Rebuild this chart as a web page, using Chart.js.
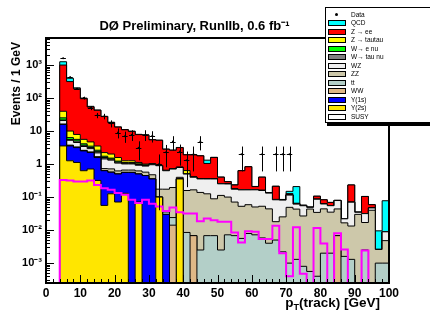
<!DOCTYPE html>
<html>
<head>
<meta charset="utf-8">
<script src="https://cdn.jsdelivr.net/npm/chart.js@4.4.1/dist/chart.umd.min.js"></script>
<style>
  html, body { margin: 0; padding: 0; background: #fff; }
  #wrap { position: relative; width: 430px; height: 311px; overflow: hidden; }
  #legend {
    position: absolute; left: 325px; top: 7px; width: 110px; height: 114px;
    background: #fff; border: 1px solid #000; box-shadow: 2px 3px 0 #000;
    font-family: "Liberation Sans", Arial, sans-serif; font-size: 6.5px; color: #000;
  }
  .row { position: absolute; left: 0; height: 9px; width: 100%; }
  .sw { position: absolute; left: 2px; top: 2px; width: 16px; height: 4px; border: 1px solid #000; }
  .dot { position: absolute; left: 9px; top: 3px; width: 3px; height: 3px; border-radius: 50%; background: #000; }
  .lb { position: absolute; left: 25px; top: 0; line-height: 9px; white-space: nowrap; }
</style>
</head>
<body>
<div id="wrap">
  <canvas id="chart" width="430" height="311"></canvas>
  <div id="legend"></div>
</div>
<script>
// bins: 2 GeV wide, left edges
const binStart = [0, 2, 4, 6, 8, 10, 12, 14, 16, 18, 20, 22, 24, 26, 28, 30, 32, 34, 36, 38,
                  40, 42, 44, 46, 48, 50, 52, 54, 56, 58, 60, 62, 64, 66, 68, 70, 72, 74, 76, 78,
                  80, 82, 84, 86, 88, 90, 92, 94, 96, 98];
const xEnd = 100;
const xTicks = [0, 10, 20, 30, 40, 50, 60, 70, 80, 90, 100];
const yTicks = [1e-3, 1e-2, 1e-1, 1, 10, 100, 1000];
const yTickLabels = ['10⁻³', '10⁻²', '10⁻¹', '1', '10', '10²', '10³'];
const yMin = 2.5e-4, yMax = 6600;

// stacked backgrounds, bottom to top (events / 1 GeV)
const ups2s = [0, 0, 3.55, 1.26, 1.12, 0.63, 0.71, 0.32, 0.056, 0.126,
  0.071, 0.13, 0, 0.071, 0, 0, 0.1, 0, 0, 0.355,
  0, 0, 0, 0, 0, 0, 0, 0, 0, 0,
  0, 0, 0, 0, 0, 0, 0, 0, 0, 0,
  0, 0, 0, 0, 0, 0, 0, 0, 0, 0];
const ups1s = [0, 0, 12.3, 2.29, 2.04, 1.88, 1.53, 1.26, 0.575, 0.44,
  0.43, 0.43, 0.56, 0.43, 0.45, 0.355, 0, 0.03, 0, 0,
  0, 0, 0, 0, 0, 0, 0, 0, 0, 0,
  0, 0, 0, 0, 0, 0, 0, 0, 0, 0,
  0, 0, 0, 0, 0, 0, 0, 0, 0, 0];
const ww = [0, 0, 0, 0, 0, 0, 0, 0, 0, 0,
  0, 0, 0, 0, 0, 0, 0, 0, 0.0141, 0,
  0, 0.0068, 0, 0, 0, 0, 0, 0, 0, 0,
  0, 0, 0, 0, 0, 0, 0, 0, 0, 0,
  0, 0, 0.0068, 0, 0, 0, 0, 0, 0, 0];
const ttbar = [0, 0, 0, 0, 0, 0, 0, 0, 0, 0,
  0, 0, 0, 0, 0, 0, 0, 0.0055, 0.0099, 0,
  0.0085, 0, 0.0025, 0.0068, 0.0068, 0.0025, 0.0072, 0.0068, 0.0056, 0.0079,
  0.0072, 0.0058, 0.004, 0.005, 0.0022, 0.001, 0.0013, 0.0008, 0.00056, 0.0004,
  0.002, 0.002, 0, 0.0016, 0.0013, 0, 0.0025, 0, 0.001, 0.001];
const zz = [0, 0, 0.5, 0.2, 0.15, 0.1, 0.1, 0.1, 0.1, 0.15,
  0.12, 0.1, 0.1, 0.12, 0.12, 0.12, 0.074, 0.138, 0.171, 0.043,
  0.15, 0.159, 0.136, 0.119, 0.082, 0.11, 0.093, 0.064, 0.047, 0.051,
  0.043, 0.047, 0.04, 0.013, 0.023, 0.048, 0.042, 0.026, 0.043, 0.034,
  0.042, 0.033, 0.037, 0.015, 0.012, 0.03, 0.0145, 0.04, 0.0016, 0.0038];
const wz = [0, 0, 4.5, 1.5, 1.2, 0.8, 0.6, 0.5, 0.7, 0.6,
  0.45, 0.35, 0.35, 0.3, 0.3, 0.48, 0.72, 0.456, 0.513, 0.39,
  0.34, 0.234, 0.217, 0.229, 0.266, 0.14, 0.15, 0.103, 0.113, 0.107,
  0.116, 0.106, 0.088, 0.065, 0.056, 0.066, 0.018, 0.028, 0.0053, 0.052,
  0.018, 0.02, 0.035, 0.0054, 0.057, 0.0047, 0.0146, 0.007, 0, 0.0041];
const wtaunu = [0, 0, 0.8, 0.3, 0.5, 0.3, 0.25, 0.2, 0.15, 0.1,
  0.08, 0.05, 0.05, 0.05, 0.04, 0.03, 0.01, 0.01, 0.01, 0.01,
  0.005, 0.005, 0.005, 0.005, 0.005, 0.002, 0.002, 0.002, 0.002, 0.002,
  0.001, 0.001, 0.001, 0.001, 0.0005, 0.0005, 0, 0, 0, 0,
  0, 0, 0, 0, 0, 0, 0, 0, 0, 0];
const wenu = [0, 0, 3.5, 0.8, 0.6, 0.4, 0.3, 0.25, 0.15, 0.1,
  0.08, 0.05, 0.05, 0.05, 0.04, 0.02, 0.005, 0.005, 0.005, 0.005,
  0.003, 0.003, 0.003, 0.003, 0.003, 0.001, 0.001, 0.001, 0.001, 0.001,
  0.001, 0.001, 0.001, 0.001, 0.001, 0.001, 0, 0, 0, 0,
  0, 0, 0, 0, 0, 0, 0, 0, 0, 0];
const ztautau = [0, 0, 14.65, 3.65, 2.3, 1.5, 1.2, 0.9, 0.5, 0.5,
  0.35, 0.15, 0.15, 0.1, 0.05, 0.03, 0.005, 0.005, 0.005, 0.005,
  0.13, 0.002, 0.002, 0.002, 0.002, 0, 0, 0, 0, 0,
  0, 0, 0, 0, 0, 0, 0, 0, 0, 0,
  0, 0, 0, 0, 0, 0, 0, 0, 0, 0];
const zee = [0, 0, 960, 306, 182.6, 89.9, 49, 39.1, 25.3, 16.2,
  11.6, 9.7, 8.5, 6.7, 6.6, 4.4, 4.34, 2.17, 1.9, 2.35,
  1.27, 1.49, 1.41, 0.68, 1.22, 0.145, 0.04, 0.056, 0.46, 0.66,
  0.04, 0.24, 0.001, 0.127, 0.002, 0.011, 0.004, 0.002, 0.001, 0.02,
  0.021, 0.014, 0.001, 0, 0.163, 0, 0.073, 0.012, 0, 0];
const qcd = [0, 0, 260, 82, 13.5, 4.5, 2.5, 0.9, 0.5, 0.3,
  0.2, 0.2, 0.2, 0.15, 0.1, 0.1, 0.05, 0.03, 0.03, 0.03,
  0.03, 0.02, 0.02, 0.27, 0.02, 0.005, 0.003, 0.003, 0.01, 0.01,
  0.002, 0.003, 0, 0.002, 0, 0.022, 0.143, 0, 0, 0,
  0, 0, 0, 0, 0, 0, 0, 0, 0.0069, 0.0687];

// signal overlay (not stacked)
const susy = [0, 0, 0.33, 0.316, 0.295, 0.295, 0.316, 0.234, 0.186, 0.166,
  0.132, 0.117, 0.083, 0.066, 0.083, 0.063, 0.052, 0.038, 0.048, 0.035,
  0.032, 0.032, 0.0186, 0.0224, 0.02, 0.0178, 0.0178, 0.0085, 0.0042, 0.0093,
  0.0089, 0.0054, 0.0054, 0.0135, 0.002, 0.0004, 0.0123, 0.00048, 0, 0.0115,
  0.0039, 0, 0.0081, 0.0026, 0, 0, 0.0024, 0, 0, 0];

// data points and errors
const dataVals = [null, null, 1600, 430, 190, 100, 50, 30, 28, 17,
  9, 7, 7.8, 3.1, 7.8, 7.2, 1.0, 2.3, 4.8, 2.4,
  1.3, 2.0, 4.8, null, null, null, null, null, 2.0, null,
  null, 2.0, null, 2.0, 2.0, 2.0, null, null, null, null,
  null, null, null, null, null, null, null, null, null, null];
const dataErr = [0, 0, 40, 21, 14, 10, 7, 5.5, 5.3, 4.1,
  3, 2.6, 2.8, 1.8, 2.8, 2.7, 0.96, 1.5, 2.2, 1.5,
  1.1, 1.4, 2.2, 0, 0, 0, 0, 0, 1.4, 0,
  0, 1.4, 0, 1.4, 1.4, 1.4, 0, 0, 0, 0,
  0, 0, 0, 0, 0, 0, 0, 0, 0, 0];

const layers = [
  { label: 'Y(2s)', values: ups2s, color: '#ffe600' },
  { label: 'Y(1s)', values: ups1s, color: '#0000ff' },
  { label: 'WW', values: ww, color: '#dfb887' },
  { label: 'tt', values: ttbar, color: '#b3cfc8' },
  { label: 'ZZ', values: zz, color: '#cdc8aa' },
  { label: 'WZ', values: wz, color: '#efefef' },
  { label: 'W→ tau nu', values: wtaunu, color: '#808080' },
  { label: 'W→ e nu', values: wenu, color: '#00ff00' },
  { label: 'Z → tautau', values: ztautau, color: '#ffff00' },
  { label: 'Z → ee', values: zee, color: '#ff0000' },
  { label: 'QCD', values: qcd, color: '#00ffff' }
];

const FONT = '"Liberation Sans", Arial, Helvetica, sans-serif';
Chart.defaults.font.family = FONT;
Chart.defaults.color = '#000';

// a log axis drops zeros, so empty bins get a value far below the axis
const EMPTY = 1e-9;
// histogram as step line: one point per bin edge
const toSteps = (vals, floor) => vals.map((v, i) => ({ x: binStart[i], y: v > 0 ? v : floor }))
  .concat([{ x: xEnd, y: vals[vals.length - 1] > 0 ? vals[vals.length - 1] : floor }]);

const datasets = layers.map((l, i) => ({
  label: l.label,
  data: toSteps(l.values, EMPTY),
  stepped: true,
  stack: 'mc',
  fill: i === 0 ? 'start' : '-1',
  backgroundColor: l.color,
  borderColor: '#000',
  borderWidth: 1,
  pointRadius: 0,
  order: 2
}));
datasets.push({
  label: 'SUSY',
  data: toSteps(susy, yMin),
  stepped: true,
  stack: 'susy',
  fill: false,
  borderColor: '#ff00ff',
  borderWidth: 2,
  pointRadius: 0,
  clip: { left: 0, top: 0, right: 0, bottom: 1 },
  order: 1
});
datasets.push({
  label: 'Data',
  data: dataVals.map((v, i) => ({ x: binStart[i] + 1, y: v })),
  stack: 'data',
  showLine: false,
  pointRadius: 1,
  pointBackgroundColor: '#000',
  pointBorderWidth: 0,
  order: 0
});

// ROOT style: inner ticks, frame, data error bars, axis titles
const rootStyle = {
  id: 'rootStyle',
  afterDatasetsDraw(chart) {
    const { ctx, chartArea: a, scales: { x, y } } = chart;
    ctx.save();

    // data error bars
    ctx.strokeStyle = '#000';
    ctx.lineWidth = 1;
    dataVals.forEach((v, i) => {
      if (v === null) return;
      const cx = Math.round(x.getPixelForValue(binStart[i] + 1)) + 0.5;
      const cy = Math.round(y.getPixelForValue(v)) + 0.5;
      const top = y.getPixelForValue(v + dataErr[i]);
      const bot = y.getPixelForValue(Math.max(v - dataErr[i], y.min));
      ctx.beginPath();
      ctx.moveTo(cx, top); ctx.lineTo(cx, bot);
      ctx.moveTo(x.getPixelForValue(binStart[i] + 0.2), cy);
      ctx.lineTo(x.getPixelForValue(binStart[i] + 1.8), cy);
      ctx.stroke();
    });

    // tick marks inside the frame
    ctx.beginPath();
    for (let v = 0; v <= 100; v += 2) {
      const px = Math.round(x.getPixelForValue(v)) + 0.5;
      const len = v % 10 === 0 ? 8 : 4;
      ctx.moveTo(px, a.bottom); ctx.lineTo(px, a.bottom - len);
    }
    for (let e = -4; e <= 3; e++) {
      for (let m = 1; m <= 9; m++) {
        const v = m * Math.pow(10, e);
        if (v < y.min || v > y.max) continue;
        const py = Math.round(y.getPixelForValue(v)) + 0.5;
        const len = m === 1 ? 8 : 4;
        ctx.moveTo(a.left, py); ctx.lineTo(a.left + len, py);
      }
    }
    ctx.stroke();

    // frame
    ctx.lineWidth = 2;
    ctx.strokeRect(a.left, a.top, a.right - a.left, a.bottom - a.top);
    ctx.restore();
  },
  afterDraw(chart) {
    const { ctx, chartArea: a } = chart;
    ctx.save();
    ctx.fillStyle = '#000';
    ctx.textBaseline = 'alphabetic';

    // x title with subscript
    const big = 'bold 13.5px ' + FONT, small = 'bold 9px ' + FONT;
    ctx.font = big;
    const rest = '(track) [GeV]';
    const wRest = ctx.measureText(rest).width;
    const wP = ctx.measureText('p').width;
    ctx.font = small;
    const wT = ctx.measureText('T').width;
    const xr = a.right - 9, base = 307;
    ctx.font = big;
    ctx.fillText('p', xr - wRest - wT - wP, base);
    ctx.fillText(rest, xr - wRest, base);
    ctx.font = small;
    ctx.fillText('T', xr - wRest - wT, base + 3);

    // y title, right adjusted to the top
    ctx.font = 'bold 12px ' + FONT;
    ctx.translate(20, a.top + 4);
    ctx.rotate(-Math.PI / 2);
    ctx.textAlign = 'right';
    ctx.fillText('Events / 1 GeV', 0, 0);
    ctx.restore();
  }
};

new Chart(document.getElementById('chart'), {
  type: 'line',
  data: { datasets },
  plugins: [rootStyle],
  options: {
    responsive: false,
    animation: false,
    devicePixelRatio: 1,
    layout: { padding: { left: 0, right: 41, top: 0, bottom: 0 } },
    plugins: {
      legend: { display: false },
      tooltip: { enabled: false },
      title: {
        display: true,
        text: 'DØ Preliminary, RunIIb, 0.6 fb⁻¹',
        color: '#000',
        font: { size: 13, weight: 'bold' },
        padding: { top: 19, bottom: 3.4 }
      }
    },
    scales: {
      x: {
        type: 'linear', min: 0, max: 100,
        grid: { display: false, drawTicks: false },
        border: { display: false },
        afterBuildTicks: s => { s.ticks = xTicks.map(v => ({ value: v })); },
        afterFit: s => { s.height = 28; },
        ticks: { font: { size: 12, weight: 'bold' }, color: '#000', padding: 3, maxRotation: 0, autoSkip: false }
      },
      y: {
        type: 'logarithmic', min: yMin, max: yMax, stacked: true,
        grid: { display: false, drawTicks: false },
        border: { display: false },
        afterBuildTicks: s => { s.ticks = yTicks.map(v => ({ value: v })); },
        afterFit: s => { s.width = 46; },
        ticks: {
          font: { size: 11, weight: 'bold' }, color: '#000', padding: 4, autoSkip: false,
          callback: (v, i) => yTickLabels[i]
        }
      }
    }
  }
});

// legend box, ROOT order
const legendEl = document.getElementById('legend');
const legendItems = [{ label: 'Data', dot: true }]
  .concat(layers.slice().reverse().map(l => ({ label: l.label, color: l.color })))
  .concat([{ label: 'SUSY', color: '#ffffff' }]);
legendItems.forEach((it, i) => {
  const row = document.createElement('div');
  row.className = 'row';
  row.style.top = (1.5 + i * 8.5) + 'px';
  const mark = it.dot
    ? '<span class="dot"></span>'
    : `<span class="sw" style="background:${it.color}"></span>`;
  row.innerHTML = mark + `<span class="lb">${it.label}</span>`;
  legendEl.appendChild(row);
});
</script>
</body>
</html>
